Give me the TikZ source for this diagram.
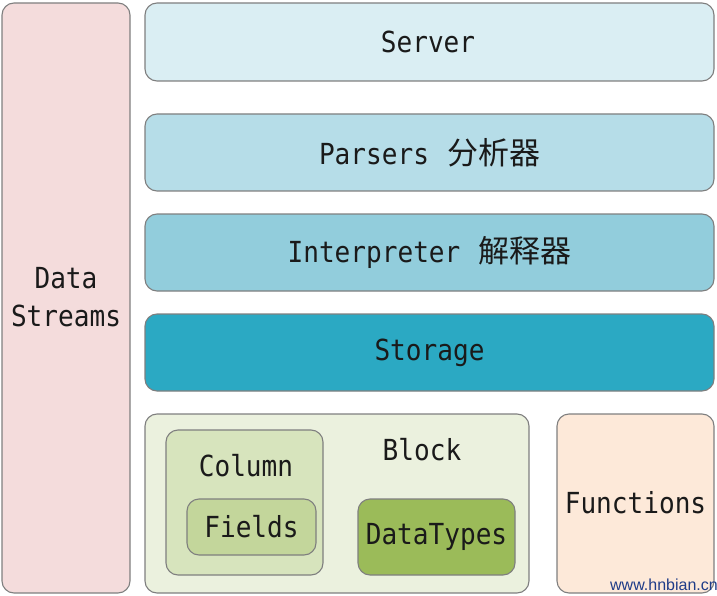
\documentclass[tikz,border=0pt]{standalone}
\usepackage{fontspec}
\newfontfamily\monof[FakeStretch=0.9]{DejaVu Sans Mono}
\newfontfamily\cjk{Noto Sans CJK SC}
\newfontfamily\wmfont{Liberation Sans}
\newcommand{\zh}[1]{\hspace{18pt}{\cjk\fontsize{31}{33}\selectfont #1}}
\definecolor{bordc}{HTML}{7F7F7F}
\definecolor{dsc}{HTML}{F4DCDC}
\definecolor{svc}{HTML}{DAEEF3}
\definecolor{psc}{HTML}{B6DDE8}
\definecolor{inc}{HTML}{92CDDC}
\definecolor{stc}{HTML}{2BA9C3}
\definecolor{blc}{HTML}{EBF1DE}
\definecolor{coc}{HTML}{D7E4BD}
\definecolor{fic}{HTML}{C3D69B}
\definecolor{dtc}{HTML}{9BBB59}
\definecolor{fnc}{HTML}{FDE9D9}
\definecolor{wmc}{HTML}{1F3C88}
\definecolor{txc}{HTML}{1A1A1A}
\begin{document}
\begin{tikzpicture}[x=1pt,y=-1pt,
  box/.style={draw=bordc,line width=1.1pt,rounded corners=12pt,inner sep=0pt},
  lbl/.style={font=\monof\fontsize{29}{33}\selectfont,text=txc,inner sep=0pt,align=center}]
\useasboundingbox (0,0) rectangle (717,596);
% Data Streams
\node[box,fill=dsc,minimum width=128pt,minimum height=590pt] (ds) at (66,298) {};
\node[lbl] (dst) at (66,297) {Data\\[5pt]Streams};
% layers
\node[box,fill=svc,minimum width=569pt,minimum height=78pt] (sv) at (429.5,42) {};
\node[lbl] (svt) at (428,42) {Server};
\node[box,fill=psc,minimum width=569pt,minimum height=77pt] (ps) at (429.5,152.5) {};
\node[lbl] (pst) at (429.5,152.5) {Parsers\zh{分析器}};
\node[box,fill=inc,minimum width=569pt,minimum height=77pt] (in) at (429.5,252.5) {};
\node[lbl] (int) at (429.5,252.5) {Interpreter\zh{解释器}};
\node[box,fill=stc,minimum width=569pt,minimum height=77pt] (st) at (429.5,352.5) {};
\node[lbl] (stt) at (429.5,352.5) {Storage};
% Block
\node[box,fill=blc,minimum width=384pt,minimum height=179pt] (bl) at (337,503.5) {};
\node[lbl] (blt) at (422,450) {Block};
\node[box,fill=coc,minimum width=157pt,minimum height=145pt] (co) at (244.5,502.5) {};
\node[lbl] (cot) at (246,466) {Column};
\node[box,fill=fic,minimum width=129pt,minimum height=56pt] (fi) at (251.5,527) {};
\node[lbl] (fit) at (251.5,527) {Fields};
\node[box,fill=dtc,minimum width=157pt,minimum height=76pt] (dt) at (436.5,537) {};
\node[lbl] (dtt) at (436.5,537) {DataTypes};
% Functions
\node[box,fill=fnc,minimum width=157pt,minimum height=179pt] (fn) at (635.5,503.5) {};
\node[lbl] (fnt) at (635.5,503) {Functions};
% watermark
\node[anchor=east,inner sep=0pt,font=\wmfont\fontsize{16}{18}\selectfont,text=wmc] (wm) at (718,585) {www.hnbian.cn};
\end{tikzpicture}
\end{document}
